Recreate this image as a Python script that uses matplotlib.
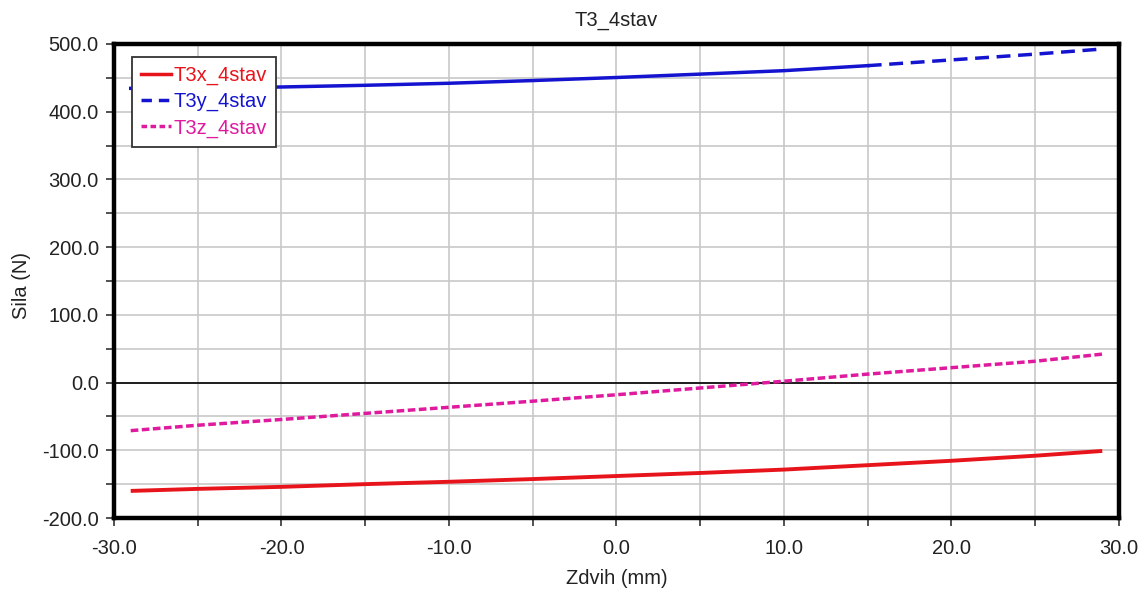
import matplotlib
matplotlib.use("Agg")
import matplotlib.pyplot as plt
from matplotlib.lines import Line2D
from matplotlib.ticker import MultipleLocator, FormatStrFormatter

# Lift (mm) and force components (N)
zdvih = [-29, -25, -20, -15, -10, -5, 0, 5, 10, 15, 20, 25, 29]
t3x = [-160, -157, -154, -150, -146.5, -142.5, -138, -133.5, -128.5, -122, -115.5, -108, -101]
t3y = [434.5, 435, 436.5, 439, 442, 446, 450.5, 455.5, 460.6, 468, 476.5, 485, 492.6]
t3z = [-71, -63, -54.5, -45.5, -36.5, -27.5, -18, -8, 2, 12.5, 22, 31.5, 42]

series_names = ["T3x_4stav", "T3y_4stav", "T3z_4stav"]
series_colors = ["#e8141b", "#1414d0", "#e01a9e"]

txt_font = ["Liberation Sans", "DejaVu Sans"]
txt_size = 14.5
txt_color = "#222222"

fig = plt.figure(figsize=(11.43, 5.92), dpi=100)
ax = fig.add_axes([0.0997, 0.125, 0.8793, 0.8007])

# T3x: solid
ax.plot(zdvih, t3x, color=series_colors[0], lw=2.8, solid_capstyle="butt", zorder=3)
# T3y: dense strokes at low lift, open dashes towards the end
split = zdvih.index(15)
ax.plot(zdvih[:split + 1], t3y[:split + 1], color=series_colors[1], lw=2.5, zorder=3)
ax.plot(zdvih[split:], t3y[split:], color=series_colors[1], lw=2.5,
        linestyle=(0, (4, 2.2)), zorder=3)
# T3z: short dashes
ax.plot(zdvih, t3z, color=series_colors[2], lw=2.5, linestyle=(0, (2.2, 1.0)), zorder=3)

ax.axhline(0, color="black", lw=1.2, zorder=2)

ax.set_xlim(-30, 30)
ax.set_ylim(-200, 500)
ax.xaxis.set_major_locator(MultipleLocator(10))
ax.xaxis.set_minor_locator(MultipleLocator(5))
ax.yaxis.set_major_locator(MultipleLocator(100))
ax.yaxis.set_minor_locator(MultipleLocator(50))
ax.xaxis.set_major_formatter(FormatStrFormatter("%.1f"))
ax.yaxis.set_major_formatter(FormatStrFormatter("%.1f"))
ax.grid(True, which="both", color="#c8c8c8", lw=1.2, zorder=0)
ax.set_axisbelow(True)

for s in ax.spines.values():
    s.set_linewidth(3.2)
    s.set_color("black")

ax.tick_params(which="both", direction="out", color="#333333", width=1.2, length=6)
ax.tick_params(axis="x", which="major", pad=9)
ax.tick_params(axis="y", which="major", pad=5)
for lab in ax.get_xticklabels() + ax.get_yticklabels():
    lab.set_fontfamily(txt_font)
    lab.set_fontsize(txt_size)
    lab.set_color(txt_color)

ax.set_title("T3_4stav", fontfamily=txt_font, fontsize=txt_size, pad=13, color=txt_color)
ax.set_xlabel("Zdvih (mm)", fontfamily=txt_font, fontsize=txt_size, labelpad=8, color=txt_color)
ax.set_ylabel("Sila (N)", fontfamily=txt_font, fontsize=14.5, color=txt_color,
              va="center", ha="center")
ax.yaxis.set_label_coords(-0.092, 0.49)

handles = [
    Line2D([], [], color=series_colors[0], lw=2.5),
    Line2D([], [], color=series_colors[1], lw=2.5, linestyle=(0, (3, 2))),
    Line2D([], [], color=series_colors[2], lw=2.5, linestyle=(0, (1.6, 1.0))),
]
leg = ax.legend(handles, series_names, loc="upper left", bbox_to_anchor=(0.018, 0.973),
                prop={"family": txt_font, "size": txt_size}, fancybox=False,
                framealpha=1, edgecolor="#333333", handlelength=1.5, handletextpad=0.1,
                labelspacing=0.35, borderpad=0.45, borderaxespad=0)
leg.get_frame().set_linewidth(1.3)
for t, c in zip(leg.get_texts(), series_colors):
    t.set_color(c)

fig.savefig("out.png", dpi=100)
